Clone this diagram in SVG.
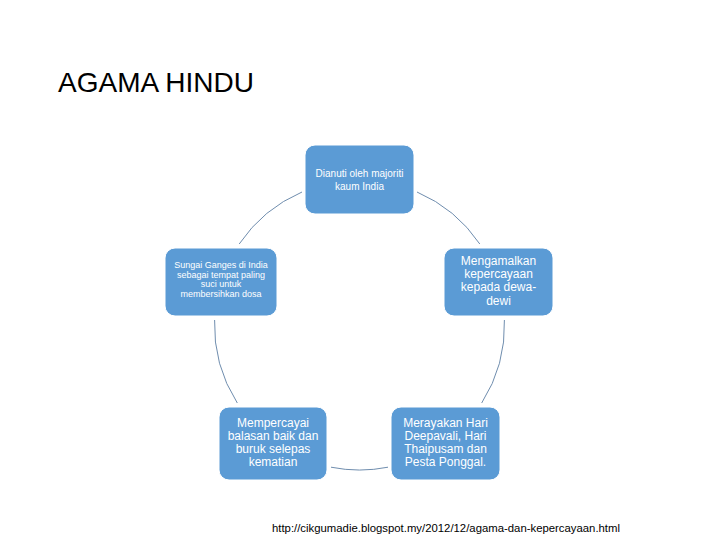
<svg xmlns="http://www.w3.org/2000/svg" width="720" height="540" viewBox="0 0 720 540">
<style>
.node rect{fill:#5B9BD5;stroke:#FFFFFF;stroke-width:1}
.node text{fill:#FFFFFF;font-family:"Liberation Sans",Arial,sans-serif;text-anchor:middle}
.conn path{fill:none;stroke:#6F8DAE;stroke-width:1}
.title{font-family:"Liberation Sans",Arial,sans-serif;font-size:28px;fill:#000}
.src{font-family:"Liberation Sans",Arial,sans-serif;font-size:10.5px;fill:#000}
</style>
<rect width="720" height="540" fill="#FFFFFF"/>
<text class="title" x="58" y="92">AGAMA HINDU</text>
<g class="conn" id="connectors">
<path d="M417,192 A145,145 0 0 1 479.8,244"/>
<path d="M504.4,320 A145,145 0 0 1 481.7,403"/>
<path d="M388,467.2 A145,145 0 0 1 331,467.2"/>
<path d="M237.3,403 A145,145 0 0 1 214.6,320"/>
<path d="M239.2,244 A145,145 0 0 1 302,192"/>
</g>
<g class="node" id="n1">
<rect x="305" y="145" width="109" height="69" rx="10"/>
<text x="359.5" y="177" font-size="10">Dianuti oleh majoriti</text>
<text x="359.5" y="190" font-size="10">kaum India</text>
</g>
<g class="node" id="n2">
<rect x="444" y="248" width="109" height="68" rx="10"/>
<text x="498.5" y="265" font-size="12">Mengamalkan</text>
<text x="498.5" y="278" font-size="12">kepercayaan</text>
<text x="498.5" y="291" font-size="12">kepada dewa-</text>
<text x="498.5" y="305" font-size="12">dewi</text>
</g>
<g class="node" id="n3">
<rect x="391" y="407" width="109" height="73" rx="10"/>
<text x="445.5" y="427" font-size="12">Merayakan Hari</text>
<text x="445.5" y="440" font-size="12">Deepavali, Hari</text>
<text x="445.5" y="453" font-size="12">Thaipusam dan</text>
<text x="445.5" y="466" font-size="12">Pesta Ponggal.</text>
</g>
<g class="node" id="n4">
<rect x="219" y="407" width="108" height="73" rx="10"/>
<text x="273" y="427" font-size="12">Mempercayai</text>
<text x="273" y="440" font-size="12">balasan baik dan</text>
<text x="273" y="453" font-size="12">buruk selepas</text>
<text x="273" y="466" font-size="12">kematian</text>
</g>
<g class="node" id="n5">
<rect x="165" y="248" width="112" height="68" rx="10"/>
<text x="221" y="268" font-size="9">Sungai Ganges di India</text>
<text x="221" y="277.5" font-size="9">sebagai tempat paling</text>
<text x="221" y="287" font-size="9">suci untuk</text>
<text x="221" y="296.5" font-size="9">membersihkan dosa</text>
</g>
<text class="src" x="272" y="532" textLength="348" lengthAdjust="spacingAndGlyphs">http://cikgumadie.blogspot.my/2012/12/agama-dan-kepercayaan.html</text>
</svg>
